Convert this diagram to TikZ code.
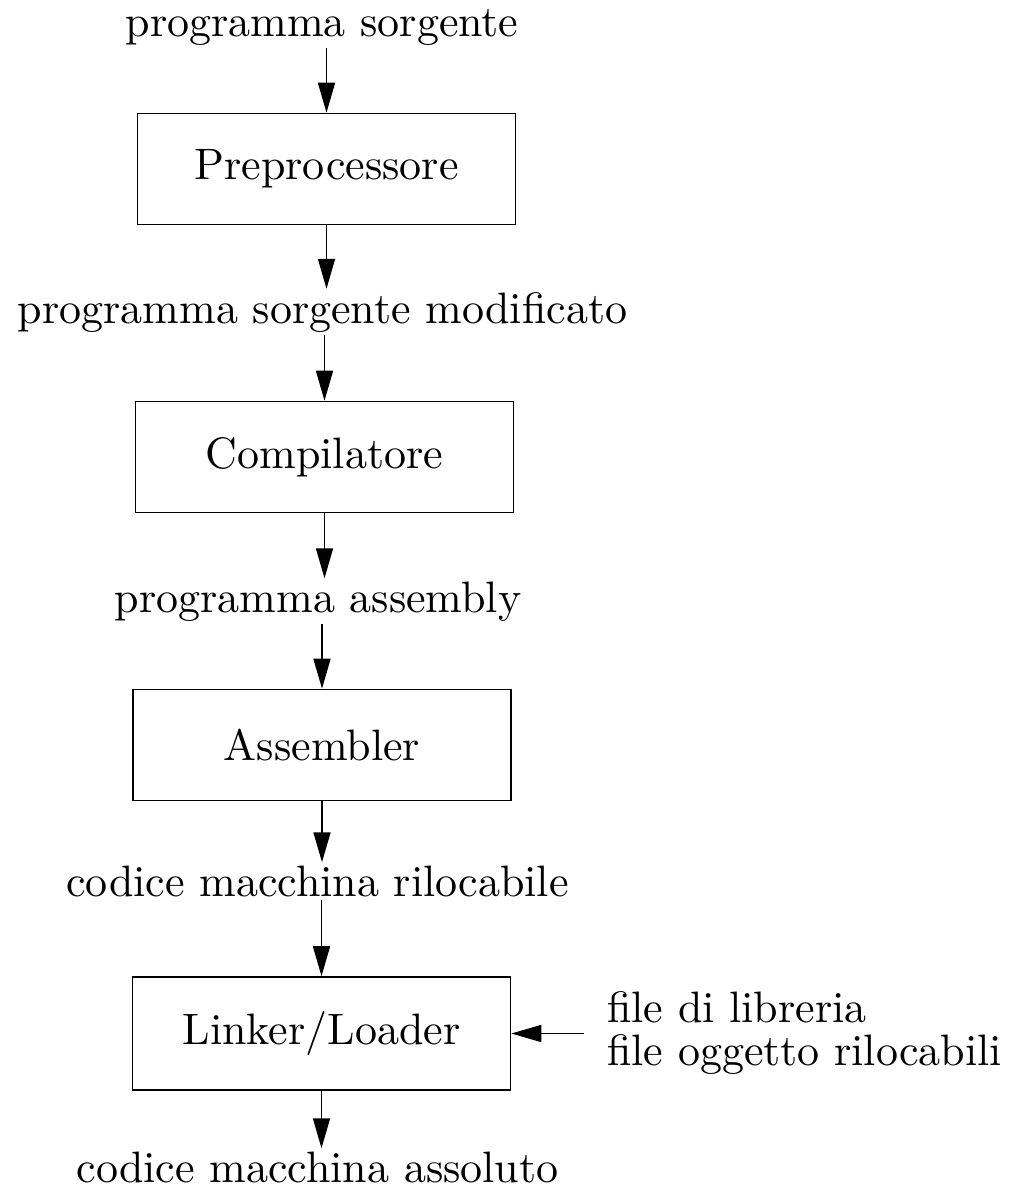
\documentclass[tikz,border=0pt]{standalone}
\usepackage{fontspec}
\setmainfont{lmroman10-regular.otf}
\usetikzlibrary{arrows.meta}
\begin{document}
\begin{tikzpicture}[x=1pt,y=-1pt,
  every node/.style={font=\fontsize{44}{43}\selectfont, inner sep=3pt},
  stage/.style={draw, line width=1.6pt, minimum width=378pt, minimum height=111pt},
  lbl/.style={anchor=base},
  arr/.style={line width=1.6pt, -{Triangle[length=30pt,width=17pt]}}]
\useasboundingbox (0,0) rectangle (1013,1194);
\node[lbl] (t1) at (322,36) {programma sorgente};
\node[stage] (b1) at (326.5,169) {Preprocessore};
\node[lbl] (t2) at (322.5,323) {programma sorgente modificato};
\node[stage] (b2) at (324.5,457) {Compilatore};
\node[lbl] (t3) at (318,612) {programma assembly};
\node[stage] (b3) at (322,745) {Assembler};
\node[lbl] (t4) at (317.5,896) {codice macchina rilocabile};
\node[stage, minimum height=113pt] (b4) at (321.5,1033.5) {Linker/Loader};
\node[lbl] (t5) at (317.5,1182) {codice macchina assoluto};
\node[anchor=north west, align=left, inner sep=0pt] (lib) at (607,991) {file di libreria\\file oggetto rilocabili};
\coordinate (libin) at (584,1033.5);
\draw[arr] (t1.south -| b1.north) -- (b1.north);
\draw[arr] (b1.south) -- (b1.south |- t2.north);
\draw[arr] (t2.south -| b2.north) -- (b2.north);
\draw[arr] (b2.south) -- (b2.south |- t3.north);
\draw[arr] (t3.south -| b3.north) -- (b3.north);
\draw[arr] (b3.south) -- (b3.south |- t4.north);
\draw[arr] (t4.south -| b4.north) -- (b4.north);
\draw[arr] (b4.south) -- (b4.south |- t5.north);
\draw[arr] (libin) -- (b4.east);
\end{tikzpicture}
\end{document}
